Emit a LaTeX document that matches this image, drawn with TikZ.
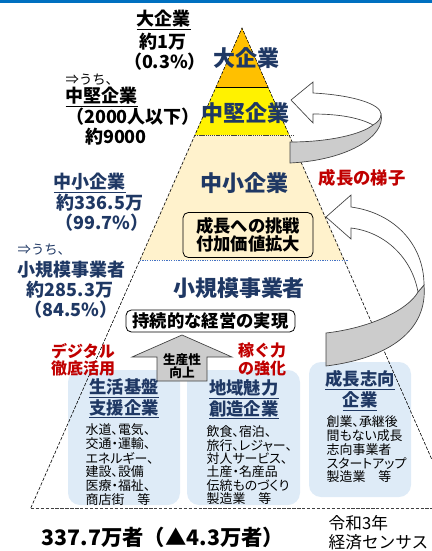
\documentclass[tikz,border=0pt]{standalone}
\usepackage{fontspec}
\setmainfont{Noto Sans CJK JP}
\newfontfamily\bodyfont{Noto Sans CJK JP}[RawFeature=+palt]
\definecolor{navyc}{RGB}{31,56,100}
\definecolor{redc}{RGB}{192,0,0}
\definecolor{orangec}{RGB}{255,192,0}
\definecolor{peach}{RGB}{255,242,204}
\definecolor{boxblue}{RGB}{222,235,247}
\definecolor{topblue}{RGB}{0,112,192}
\definecolor{arrgray}{RGB}{204,204,204}
\definecolor{edgec}{RGB}{64,64,64}
\definecolor{lineblue}{RGB}{68,114,196}
\tikzset{
 navyb/.style={text=navyc, font=\bfseries\fontsize{13.5}{15}\selectfont},
 navyr/.style={text=navyc, font=\fontsize{10}{12}\selectfont},
 blkr/.style={font=\fontsize{10}{12}\selectfont},
 pyr/.style={text=navyc, font=\bfseries\fontsize{16.5}{18}\selectfont},
 blk/.style={font=\bfseries\fontsize{13.5}{15}\selectfont},
 redt/.style={text=redc, align=center, font=\bfseries\fontsize{12}{11.3}\selectfont},
 head/.style={text=navyc, align=center, font=\bfseries\fontsize{13}{14.3}\selectfont},
 body/.style={anchor=west, font=\bodyfont\fontsize{9.7}{10.5}\selectfont},
 rbox/.style={draw=black, fill=white, rounded corners=4pt, line width=0.6pt, font=\bfseries\fontsize{13}{13.5}\selectfont, align=center, inner sep=0pt},
 bluebox/.style={fill=boxblue, rounded corners=9pt},
 ribbon/.style={draw=edgec, line width=0.5pt},
 pyredge/.style={draw=black, line width=0.45pt, dash pattern=on 2.5pt off 1.2pt},
 srcf/.style={anchor=west, font=\fontsize{12.5}{14}\selectfont},
}
\begin{document}
\begin{tikzpicture}[x=0.75pt,y=-0.75pt]
\useasboundingbox (0,0) rectangle (432,551);
% top bar
\fill[topblue] (0,0) rectangle (432,3);
% pyramid bands
\fill[orangec] (242,28) -- (268,87) -- (216,87) -- cycle;
\fill[yellow] (216,87) -- (268,87) -- (289.1,135) -- (194.9,135) -- cycle;
\fill[peach] (194.9,135) -- (289.1,135) -- (344.1,260) -- (139.9,260) -- cycle;
\draw[black, line width=0.5pt] (216,87) -- (268,87);
\draw[edgec, line width=0.6pt, dash pattern=on 1pt off 0.6pt] (194.9,135) -- (294,135);
\draw[lineblue, line width=0.6pt, dash pattern=on 1pt off 0.8pt] (139.9,260) -- (348,260);
% blue boxes
\fill[bluebox] (68,370) rectangle (180,505);
\fill[bluebox] (187,370) rectangle (300,505);
\fill[bluebox] (309,362) rectangle (411,497);
% pyramid outline
\draw[pyredge] (30.8,508) -- (242,28) -- (432,459.8);
\draw[pyredge, draw=edgec] (30.8,508) -- (432,508);
% ribbon arrow 1
\filldraw[ribbon, fill=arrgray] (290,142) .. controls (330,142) and (362,134) .. (373,125) -- (381,114) .. controls (386,135) and (350,160) .. (290,163) -- cycle;
\filldraw[ribbon, fill=white] (291,100) -- (313,82) -- (313,93) .. controls (352,95) and (381,104) .. (381,114) .. controls (381,119) and (378,122) .. (373,125) .. controls (360,118) and (340,114) .. (313,114) -- (313,123) -- cycle;
% ribbon arrow 2
\filldraw[ribbon, fill=arrgray] (326,333) .. controls (370,328) and (408,310) .. (418,292) -- (424,285) .. controls (428,330) and (390,358) .. (326,366) -- cycle;
\filldraw[ribbon, fill=white] (326,217) -- (351,195) -- (351,207) .. controls (395,213) and (424,245) .. (424,285) -- (418,292) .. controls (412,258) and (385,232) .. (351,228) -- (351,239) -- cycle;
% left black texts
\node[blk] (l1) at (164,20) {\underline{大企業}};
\node[blk] (l2) at (163,42) {約1万};
\node[blk] (l3) at (165,62) {（0.3\%）};
\node[blkr, anchor=west] (l4) at (61,80) {⇒うち、};
\node[blk, anchor=west] (l5) at (61,97) {\underline{中堅企業}};
\node[blk] (l6) at (133,117) {（2000人以下）};
\node[blk] (l7) at (116,137) {約9000};
% left navy texts
\node[navyb] (n1) at (90,183) {\underline{中小企業}};
\node[navyb] (n2) at (100,203) {約336.5万};
\node[navyb] (n3) at (102,223) {（99.7\%）};
\node[navyr, anchor=west] (n4) at (13,250) {⇒うち、};
\node[navyb] (n5) at (71,270) {小規模事業者};
\node[navyb] (n6) at (70,290) {約285.3万};
\node[navyb] (n7) at (71,310) {（84.5\%）};
% pyramid texts
\node[pyr] (p1) at (246,58) {大企業};
\node[pyr] (p2) at (245,113) {中堅企業};
\node[pyr] (p3) at (244,183) {中小企業};
\node[rbox, fill=peach, minimum width=97.5pt, minimum height=33.75pt] (p4) at (248,235) {成長への挑戦\\付加価値拡大};
\node[pyr] (p5) at (239,288) {小規模事業者};
\node[rbox, minimum width=126.75pt, minimum height=16.5pt] (p6) at (210.5,321) {持続的な経営の実現};
% up arrow
\filldraw[ribbon, fill=arrgray] (182,335) -- (232,357) -- (207,357) -- (207,381) -- (157,381) -- (157,357) -- (132,357) -- cycle;
\node[align=center, font=\bfseries\fontsize{9.5}{9}\selectfont] (ua) at (182,366) {生産性\\向上};
% red texts
\node[redt] (r1) at (83,360) {デジタル\\徹底活用};
\node[redt, font=\bfseries\fontsize{12}{13.5}\selectfont] (r2) at (262,359) {稼ぐ力\\の強化};
\node[text=redc, font=\bfseries\fontsize{13}{14}\selectfont] (r3) at (362,178) {成長の梯子};
% headings
\node[head] (h1) at (124,398.5) {\underline{生活基盤}\\\underline{支援企業}};
\node[head] (h2) at (244,399.5) {\underline{地域魅力}\\\underline{創造企業}};
\node[head] (h3) at (360,391) {\underline{成長志向}\\\underline{企業}};
% body texts
\foreach \t [count=\i from 0] in {水道、電気、,交通・運輸、,エネルギー、,建設、設備,医療・福祉、,商店街　等}
  \node[body] (ta\i) at (81,430+14*\i) {\t};
\foreach \t [count=\i from 0] in {飲食、宿泊、,旅行、レジャー、,対人サービス、,土産・名産品,伝統ものづくり,製造業　等}
  \node[body] (tb\i) at (202,432+13.3*\i) {\t};
\foreach \t [count=\i from 0] in {創業、承継後,間もない成長,志向事業者,スタートアップ,製造業　等}
  \node[body] (tc\i) at (322,422+13.75*\i) {\t};
% bottom
\node[font=\bfseries\fontsize{16}{18}\selectfont] (tot) at (163,537) {337.7万者（▲4.3万者）};
\node[srcf] (s1) at (324,523) {令和3年};
\node[srcf] (s2) at (324,542) {経済センサス};
\end{tikzpicture}
\end{document}
